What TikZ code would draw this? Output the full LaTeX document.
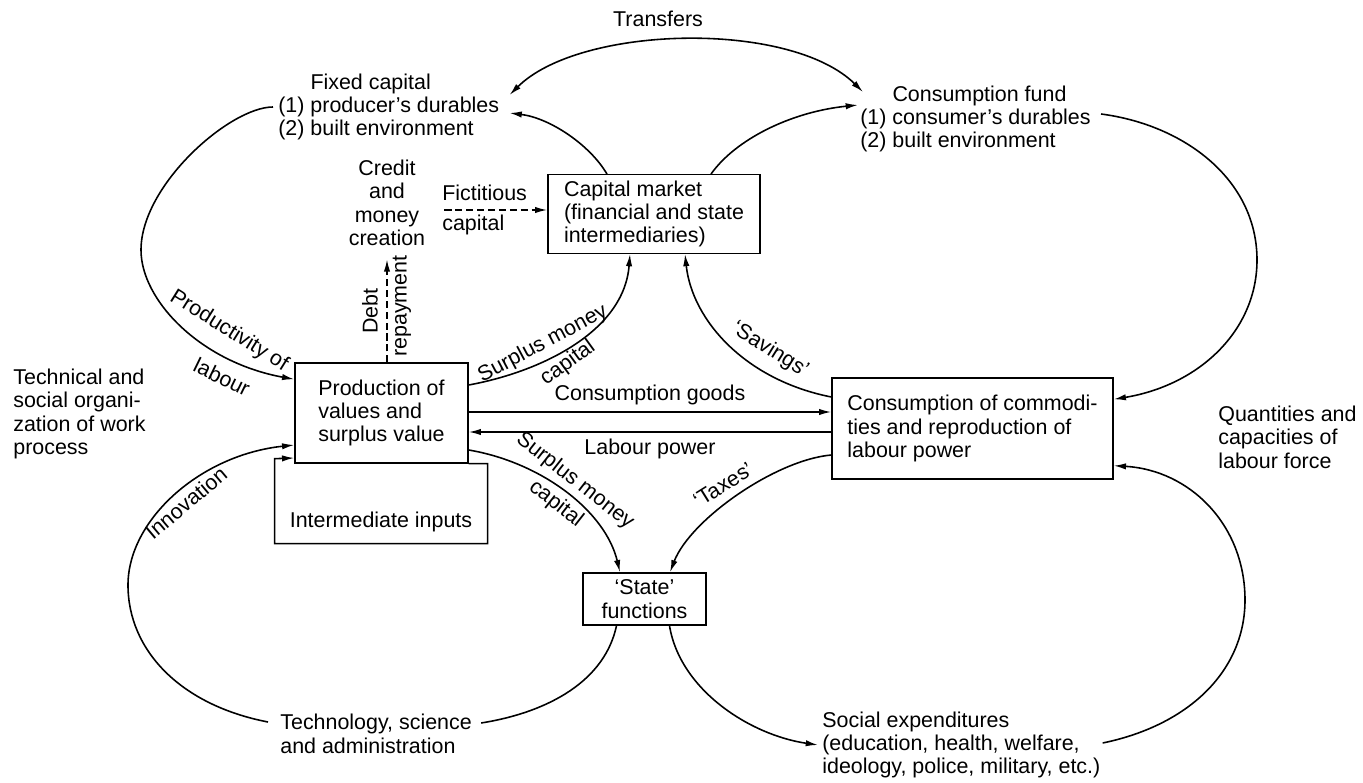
\documentclass[tikz,border=0pt]{standalone}
\usepackage{fontspec}
\setmainfont{Liberation Sans}
\usetikzlibrary{arrows.meta,calc,positioning}

\begin{document}
\begin{tikzpicture}[x=0.02cm,y=-0.02cm,
    every node/.style={font=\fontsize{12.2}{13.3}\selectfont},
    txt/.style={align=left,inner sep=0pt},
    box/.style={draw,line width=0.8pt,align=left},
    lineonly/.style={line width=0.9pt},
    flow/.style={line width=0.9pt,-{Latex[length=7pt,width=3.6pt]}},
    flowtwo/.style={line width=0.9pt,{Latex[length=7pt,width=3.6pt]}-{Latex[length=7pt,width=3.6pt]}},
    dflow/.style={flow,dash pattern=on 4pt off 2.2pt}]
\useasboundingbox (0,0) rectangle (1363,783);

% boxes
\node[box,minimum width=4.24cm,minimum height=1.48cm] (capmkt) at (654,214) {Capital market\\(financial and state\\intermediaries)};
\node[box,minimum width=3.46cm,minimum height=2cm] (prod) at (381.5,413) {Production of\\values and\\surplus value};
\node[box,minimum width=5.62cm,minimum height=2.02cm] (cons) at (972.5,428.5) {Consumption of commodi-\\ties and reproduction of\\labour power};
\node[box,align=center,minimum width=2.46cm,minimum height=1.04cm] (state) at (644.5,599) {`State'\\functions};

% free texts
\node (transfers) at (658,19) {Transfers};
\node[txt,anchor=west] (fixcap) at (278,107) {\phantom{(1) }Fixed capital\\(1) producer's durables\\(2) built environment};
\node[txt,anchor=west] (consfund) at (860,119) {\phantom{(1) }Consumption fund\\(1) consumer's durables\\(2) built environment};
\node[align=center,inner sep=0pt] (credit) at (387,203) {Credit\\and\\money\\creation};
\node[txt,anchor=west] (techorg) at (13,414) {Technical and\\social organi-\\zation of work\\process};
\node[txt,anchor=west] (quant) at (1218,437) {Quantities and\\capacities of\\labour force};
\node[txt,anchor=west] (tech) at (280,734) {Technology, science\\and administration};
\node[txt,anchor=west] (social) at (822,745) {Social expenditures\\(education, health, welfare,\\ideology, police, military, etc.)};
\node (interm) at (381,522) {Intermediate inputs};

% top: transfers and capital market
\draw[flowtwo] ($(fixcap.east)+(10,-12)$) .. controls (580,25) and (790,20) .. ($(consfund.west)+(3,-27)$);
\draw[flow] ($(capmkt.north)+(-47,0)$) .. controls (590,145) and (550,118) .. ($(fixcap.east)+(10,6)$);
\draw[flow] ($(capmkt.north)+(57,0)$) .. controls (735,140) and (790,112) .. ($(consfund.west)+(-2,-14)$);

% credit
\coordinate (fictstart) at ($(credit.east)+(19,7)$);
\draw[dflow] (fictstart) -- (fictstart -| capmkt.west);
\node[txt,anchor=west] (fictlab) at (442,193) {Fictitious};
\node[txt,anchor=west] (fictcap) at (442,225) {capital};
\draw[dflow] (credit.south |- prod.north) -- ($(credit.south)+(0,13)$);
\node[rotate=90] (debt) at (370,311) {Debt};
\node[rotate=90] (repay) at (402,306) {repayment};

% left loops
\draw[flow] ($(fixcap.west)+(-5,0)$) .. controls (230,107) and (141,185) .. (141,250) .. controls (141,300) and (200,362) .. ($(prod.north west)+(0,17)$);
\node[rotate=-32] (prodlab) at (229,331) {Productivity of};
\node[rotate=-26] (labourlab) at (222,377) {labour};
\draw[flow] ($(tech.west)+(-12,-12)$) .. controls (180,705) and (128,650) .. (128,585) .. controls (128,520) and (200,455) .. ($(prod.west)+(0,32)$);
\node[rotate=40] (innov) at (186,503) {Innovation};
\draw[flow] (prod.south east) -- ++(19,0) -- ++(0,80) -- ++(-213,0) -- ++(0,-85) -- ($(prod.west)+(0,45)$);

% middle
\draw[flow] ($(prod.east)+(0,-1)$) -- ($(cons.west)+(0,-16.5)$) node[midway,above] (cgoods) {Consumption goods};
\draw[flow] ($(cons.west)+(0,3.5)$) -- ($(prod.east)+(0,19)$) node[midway,below] (lpower) {Labour power};
\draw[flow] ($(prod.east)+(0,-28)$) .. controls (540,372) and (624,332) .. ($(capmkt.south)+(-24,0)$);
\node[rotate=28] (smup) at (543,344) {Surplus money};
\node[rotate=36] (capup) at (568,363) {capital};
\draw[flow] ($(cons.west)+(0,-31.5)$) .. controls (745,380) and (692,320) .. ($(capmkt.south)+(31,0)$);
\node[rotate=-32] (savings) at (770,350) {`Savings'};
\draw[flow] ($(prod.east)+(0,37)$) .. controls (540,462) and (605,510) .. ($(state.north)+(-24.5,0)$);
\node[rotate=-38] (smlow) at (575,481) {Surplus money};
\node[rotate=-38] (caplow) at (556,504) {capital};
\draw[flow] ($(cons.west)+(0,26.5)$) .. controls (775,460) and (690,520) .. ($(state.north)+(25.5,0)$);
\node[rotate=32] (taxes) at (723,485) {`Taxes'};

% right loops
\draw[flow] ($(consfund.east)+(10,-5)$) .. controls (1185,125) and (1257,180) .. (1257,260) .. controls (1257,330) and (1200,385) .. ($(cons.north east)+(0,22)$);
\draw[flow] ($(social.east)+(2,-2)$) .. controls (1190,725) and (1245,670) .. (1245,600) .. controls (1245,525) and (1190,470) .. ($(cons.south east)+(0,-14)$);

% bottom: state functions
\draw[lineonly] ($(state.south)+(-28,0)$) .. controls (605,680) and (550,712) .. ($(tech.east)+(9,-11)$);
\draw[flow] ($(state.south)+(25,0)$) .. controls (680,690) and (750,735) .. ($(social.west)+(-4,0)$);
\end{tikzpicture}
\end{document}
